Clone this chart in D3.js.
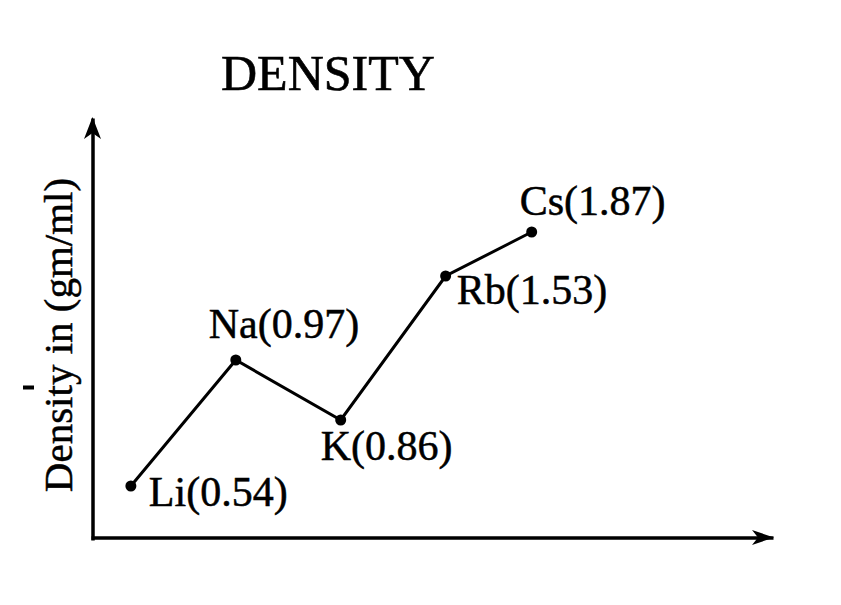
<!DOCTYPE html>
<html>
<head>
<meta charset="utf-8">
<script src="https://cdn.jsdelivr.net/npm/d3@7"></script>
<style>
  html, body { margin: 0; padding: 0; background: #fff; }
  svg { display: block; }
</style>
</head>
<body>
<svg id="chart" width="841" height="605"></svg>
<script>
// ---- data ----
const elements = ["Li", "Na", "K", "Rb", "Cs"];
const densities = [0.54, 0.97, 0.86, 1.53, 1.87];          // gm/ml, shown in labels
const plotHeight = [0.27, 0.90, 0.60, 1.32, 1.54];         // height on the unmarked y axis
const plotPosition = [0, 1, 2, 3, 3.82];                    // position along the unmarked x axis
const titleText = "DENSITY";
const yLabelText = "Density in (gm/ml)";

// ---- layout ----
const FONT = "'Liberation Serif', 'Times New Roman', 'DejaVu Serif', serif";
const svg = d3.select("#chart");
const W = 841, H = 605;
svg.append("rect").attr("width", W).attr("height", H).attr("fill", "#fff");

const x = d3.scaleLinear().domain([-0.38, 6.12]).range([91, 773]);
const y = d3.scaleLinear().domain([0, 2.11]).range([540, 118]);

const data = elements.map((e, i) => ({ name: e, d: densities[i], h: plotHeight[i], p: plotPosition[i] }));

// axes (no ticks), drawn with d3 axes
const xAxisY = 537.5;
const yAxisX = 92.5;
const gx = svg.append("g").attr("transform", `translate(0,${xAxisY})`)
  .call(d3.axisBottom(x).tickValues([]).tickSizeOuter(0));
const gy = svg.append("g").attr("transform", `translate(${yAxisX},0)`)
  .call(d3.axisLeft(y).tickValues([]).tickSizeOuter(0));
[gx, gy].forEach(g => g.select(".domain").attr("stroke", "#000").attr("stroke-width", 3.5));

// arrowheads at the ends of the axes
const yTop = y.range()[1];
svg.append("path")
  .attr("d", `M${yAxisX},${yTop - 1} L${yAxisX - 8.5},${yTop + 21} L${yAxisX},${yTop + 15} L${yAxisX + 8.5},${yTop + 21} Z`)
  .attr("fill", "#000");
const xEnd = x.range()[1];
svg.append("path")
  .attr("d", `M${xEnd + 1},${xAxisY} L${xEnd - 21},${xAxisY - 7.5} L${xEnd - 15},${xAxisY} L${xEnd - 21},${xAxisY + 7.5} Z`)
  .attr("fill", "#000");

// title
svg.append("text")
  .attr("x", 221).attr("y", 90)
  .attr("font-family", FONT)
  .attr("font-size", 50)
  .attr("fill", "#000")
  .attr("stroke", "#000").attr("stroke-width", 0.6)
  .text(titleText);

// y axis label
svg.append("text")
  .attr("transform", "translate(72,335) rotate(-90)")
  .attr("text-anchor", "middle")
  .attr("font-family", FONT)
  .attr("font-size", 41)
  .attr("fill", "#000")
  .attr("stroke", "#000").attr("stroke-width", 0.5)
  .text(yLabelText);
// small stray mark near the label
svg.append("rect").attr("x", 23).attr("y", 385.5).attr("width", 11).attr("height", 4).attr("fill", "#000");

// line
const line = d3.line().x(d => x(d.p)).y(d => y(d.h));
svg.append("path")
  .datum(data)
  .attr("d", line)
  .attr("fill", "none")
  .attr("stroke", "#000")
  .attr("stroke-width", 3);

// points
svg.selectAll("circle.pt")
  .data(data)
  .enter().append("circle")
  .attr("class", "pt")
  .attr("cx", d => x(d.p))
  .attr("cy", d => y(d.h))
  .attr("r", 5.5)
  .attr("fill", "#000");

// labels
const labelOffset = {
  Li: [18, 20],
  Na: [-27, -22],
  K: [-20, 40],
  Rb: [11, 28],
  Cs: [-12, -17]
};
svg.selectAll("text.lbl")
  .data(data)
  .enter().append("text")
  .attr("class", "lbl")
  .attr("x", d => x(d.p) + labelOffset[d.name][0])
  .attr("y", d => y(d.h) + labelOffset[d.name][1])
  .attr("font-family", FONT)
  .attr("font-size", 42)
  .attr("fill", "#000")
  .attr("stroke", "#000").attr("stroke-width", 0.5)
  .text(d => `${d.name}(${d.d.toFixed(2)})`);
</script>
</body>
</html>
